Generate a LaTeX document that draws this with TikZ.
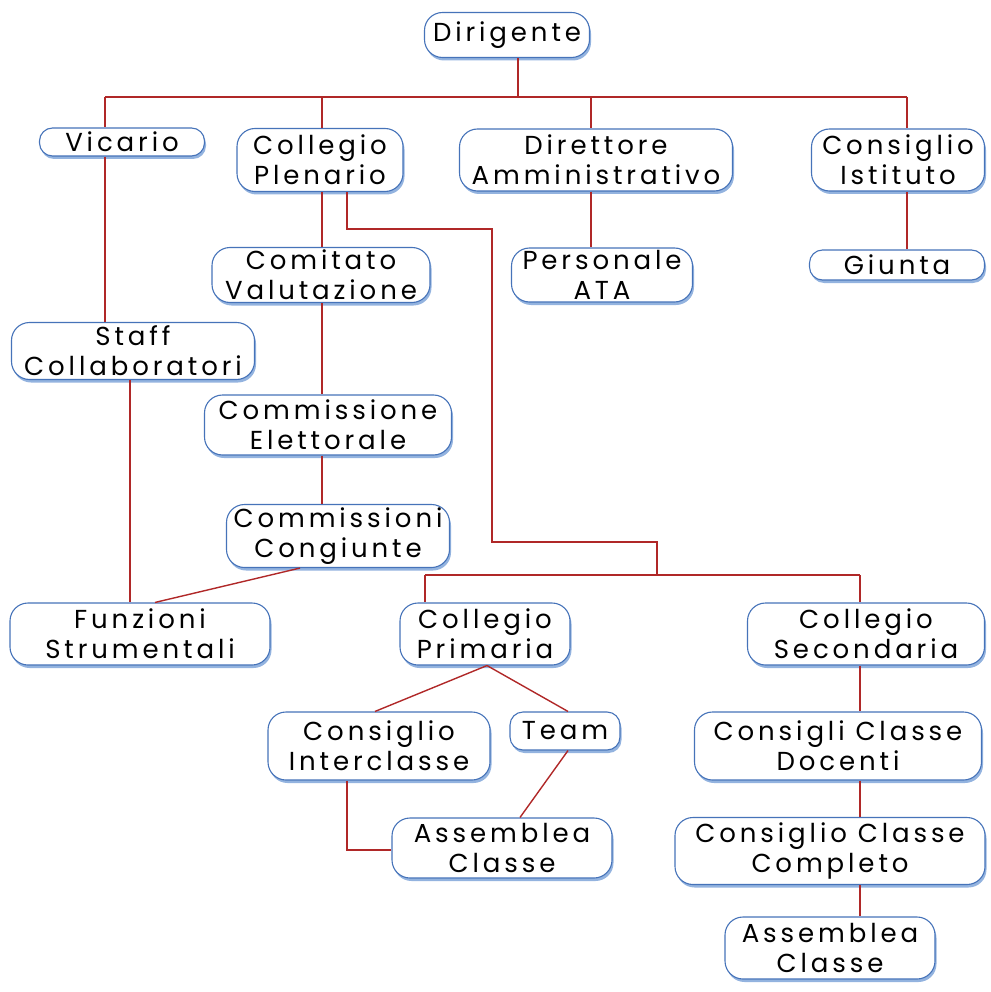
\documentclass[tikz,border=0pt]{standalone}
\usepackage{fontspec}
\setmainfont{Poppins}[LetterSpace=15]
\usetikzlibrary{shadows}
\definecolor{edge}{RGB}{176,40,40}
\definecolor{rim}{RGB}{70,115,185}
\definecolor{shade}{RGB}{120,160,215}
\tikzset{
  box/.style={draw=rim, line width=1.1pt, fill=white, rounded corners=18pt,
    align=center, inner sep=0pt, font=\fontsize{26}{30}\selectfont,
    drop shadow={fill=shade, opacity=0.8, shadow xshift=1.5pt, shadow yshift=-3pt}},
  slim/.style={rounded corners=13pt},
  link/.style={draw=edge, line width=1.4pt}
}
\newcommand{\nd}[7][]{\node[box, #1, minimum width=#5pt, minimum height=#6pt] (#2) at (#3,#4) {#7};}
\begin{document}
\begin{tikzpicture}[x=1pt,y=-1pt]
\useasboundingbox (0,0) rectangle (990,992);
% nodes
\nd{dir}{507}{35}{165}{45}{Dirigente}
\nd[slim]{vic}{122}{142}{165}{28}{Vicario}
\nd{cpl}{320}{160}{166}{63}{Collegio\\Plenario}
\nd{dam}{596}{160}{273}{62}{Direttore\\Amministrativo}
\nd{cis}{898}{160}{173}{62}{Consiglio\\Istituto}
\nd{ata}{602}{275}{181}{54}{Personale\\ATA}
\nd[slim]{giu}{897}{265}{175}{30}{Giunta}
\nd{cva}{321}{275}{218}{55}{Comitato\\Valutazione}
\nd{sta}{133}{351}{243}{57}{Staff\\Collaboratori}
\nd{cel}{328}{425}{247}{60}{Commissione\\Elettorale}
\nd{ccg}{338}{536}{223}{63}{Commissioni\\Congiunte}
\nd{fst}{140}{634}{260}{62}{Funzioni\\Strumentali}
\nd{cpr}{485}{634}{170}{62}{Collegio\\Primaria}
\nd{cse}{866}{634}{237}{62}{Collegio\\Secondaria}
\nd{cin}{379}{746}{222}{68}{Consiglio\\Interclasse}
\nd[slim]{tea}{565}{731}{110}{38}{Team}
\nd{asl}{502}{848}{220}{60}{Assemblea\\Classe}
\nd{ccd}{838}{746}{287}{68}{Consigli Classe\\Docenti}
\nd{ccc}{830}{851}{310}{67}{Consiglio Classe\\Completo}
\nd{asr}{830}{948}{210}{62}{Assemblea\\Classe}
% bus coordinates
\coordinate (b0) at (518,97);
\coordinate (b1) at (105,97);
\coordinate (b2) at (322,97);
\coordinate (b3) at (591,97);
\coordinate (b4) at (907,97);
\draw[link] (b0 |- dir.south) -- (b0);
\draw[link] (b1) -- (b4);
\draw[link] (b1) -- (b1 |- vic.north);
\draw[link] (b2) -- (b2 |- cpl.north);
\draw[link] (b3) -- (b3 |- dam.north);
\draw[link] (b4) -- (b4 |- cis.north);
\draw[link] (b3 |- dam.south) -- (b3 |- ata.north);
\draw[link] (b4 |- cis.south) -- (b4 |- giu.north);
\draw[link] (b1 |- vic.south) -- (b1 |- sta.north);
\draw[link] (b2 |- cpl.south) -- (b2 |- cva.north);
\draw[link] (b2 |- cva.south) -- (b2 |- cel.north);
\draw[link] (b2 |- cel.south) -- (b2 |- ccg.north);
\coordinate (s1) at (130,0);
\draw[link] (s1 |- sta.south) -- (s1 |- fst.north);
\draw[link] ([xshift=-38pt]ccg.south) -- ([xshift=15pt]fst.north);
% long connector from Collegio Plenario
\coordinate (p0) at (347,0);
\coordinate (m1) at (657,542);
\coordinate (m2) at (657,575);
\coordinate (l1) at (425,575);
\coordinate (r1) at (860,575);
\draw[link] (p0 |- cpl.south) -- (347,229) -- (492,229) -- (492,542) -- (m1) -- (m2);
\draw[link] (l1) -- (r1);
\draw[link] (l1) -- (l1 |- cpr.north);
\draw[link] (r1) -- (r1 |- cse.north);
\draw[link] ([xshift=2pt]cpr.south) -- ([xshift=-4pt]cin.north);
\draw[link] ([xshift=2pt]cpr.south) -- ([xshift=3pt]tea.north);
\draw[link] ([xshift=3pt]tea.south) -- ([xshift=18pt]asl.north);
\coordinate (i1) at (347,0);
\draw[link] (i1 |- cin.south) -- (347,850) -- (asl.west |- 0,850);
\draw[link] (r1 |- cse.south) -- (r1 |- ccd.north);
\draw[link] (r1 |- ccd.south) -- (r1 |- ccc.north);
\draw[link] (r1 |- ccc.south) -- (r1 |- asr.north);
\end{tikzpicture}
\end{document}
